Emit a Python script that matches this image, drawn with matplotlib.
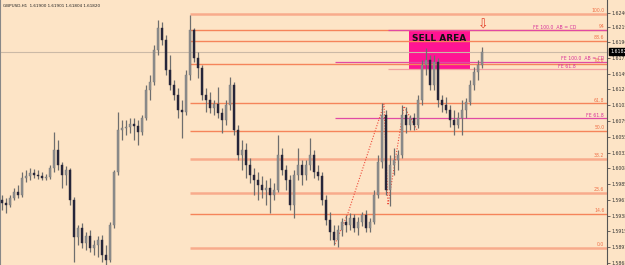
import numpy as np
import matplotlib
matplotlib.use("Agg")
from matplotlib import pyplot as plt
from matplotlib.patches import Rectangle
from matplotlib.transforms import blended_transform_factory

# GBPUSD H1 candles
opens = [1.5961, 1.5957, 1.5954, 1.5964, 1.5973, 1.5969, 1.5994, 1.5997, 1.6002, 1.5999,
         1.5997, 1.5994, 1.5996, 1.6009, 1.6036, 1.6014, 1.5999, 1.6006, 1.5961, 1.5906,
         1.5920, 1.5897, 1.5908, 1.5890, 1.5894, 1.5902, 1.5880, 1.5872, 1.5924, 1.6003,
         1.6066, 1.6069, 1.6070, 1.6074, 1.6071, 1.6063, 1.6083, 1.6125, 1.6137, 1.6185,
         1.6217, 1.6199, 1.6155, 1.6133, 1.6118, 1.6095, 1.6092, 1.6147, 1.6214, 1.6173,
         1.6158, 1.6118, 1.6110, 1.6098, 1.6104, 1.6091, 1.6080, 1.6103, 1.6133, 1.6066,
         1.6028, 1.6036, 1.6014, 1.5999, 1.5991, 1.5984, 1.5976, 1.5979, 1.5969, 1.5976,
         1.6028, 1.6006, 1.5991, 1.5954, 1.5999, 1.6014, 1.5999, 1.6014, 1.6028, 1.6003,
         1.5997, 1.5961, 1.5932, 1.5914, 1.5902, 1.5917, 1.5929, 1.5924, 1.5935, 1.5920,
         1.5929, 1.5939, 1.5920, 1.5929, 1.5969, 1.6018, 1.6088, 1.5976, 1.6014, 1.6021,
         1.6028, 1.6088, 1.6073, 1.6083, 1.6073, 1.6110, 1.6162, 1.6170, 1.6133, 1.6167,
         1.6110, 1.6103, 1.6095, 1.6080, 1.6073, 1.6083, 1.6095, 1.6107, 1.6133, 1.6152,
         1.6162]
highs = [1.5969, 1.5964, 1.5969, 1.5979, 1.5984, 1.6003, 1.6006, 1.6009, 1.6008, 1.6006,
         1.6003, 1.6000, 1.6014, 1.6063, 1.6051, 1.6018, 1.6012, 1.6009, 1.5966, 1.5924,
         1.5927, 1.5914, 1.5917, 1.5902, 1.5908, 1.5909, 1.5894, 1.5929, 1.6006, 1.6092,
         1.6080, 1.6080, 1.6083, 1.6083, 1.6080, 1.6088, 1.6133, 1.6147, 1.6192, 1.6229,
         1.6226, 1.6207, 1.6177, 1.6140, 1.6128, 1.6110, 1.6155, 1.6237, 1.6217, 1.6182,
         1.6162, 1.6128, 1.6122, 1.6110, 1.6130, 1.6098, 1.6110, 1.6144, 1.6137, 1.6073,
         1.6051, 1.6046, 1.6024, 1.6009, 1.6003, 1.5997, 1.5991, 1.5994, 1.5987, 1.6058,
         1.6039, 1.6014, 1.5999, 1.6006, 1.6039, 1.6021, 1.6021, 1.6054, 1.6036, 1.6014,
         1.6003, 1.5969, 1.5944, 1.5924, 1.5924, 1.5935, 1.5939, 1.5942, 1.5941, 1.5936,
         1.5944, 1.5946, 1.5935, 1.5976, 1.6028, 1.6106, 1.6095, 1.6028, 1.6039, 1.6036,
         1.6103, 1.6100, 1.6088, 1.6091, 1.6118, 1.6170, 1.6188, 1.6177, 1.6177, 1.6173,
         1.6118, 1.6115, 1.6103, 1.6095, 1.6092, 1.6110, 1.6113, 1.6140, 1.6159, 1.6170,
         1.6189]
lows = [1.5946, 1.5942, 1.5951, 1.5961, 1.5964, 1.5966, 1.5988, 1.5991, 1.5994, 1.5993,
        1.5991, 1.5991, 1.5993, 1.6003, 1.6006, 1.5979, 1.5984, 1.5954, 1.5869, 1.5894,
        1.5890, 1.5887, 1.5884, 1.5880, 1.5877, 1.5869, 1.5860, 1.5869, 1.5920, 1.5999,
        1.6051, 1.6058, 1.6061, 1.6051, 1.6043, 1.6058, 1.6080, 1.6110, 1.6133, 1.6177,
        1.6192, 1.6147, 1.6125, 1.6110, 1.6083, 1.6054, 1.6088, 1.6140, 1.6167, 1.6143,
        1.6110, 1.6092, 1.6091, 1.6088, 1.6083, 1.6061, 1.6073, 1.6095, 1.6058, 1.6021,
        1.6006, 1.5994, 1.5987, 1.5969, 1.5961, 1.5964, 1.5954, 1.5942, 1.5961, 1.5973,
        1.5999, 1.5976, 1.5946, 1.5935, 1.5991, 1.5984, 1.5991, 1.6006, 1.5994, 1.5991,
        1.5954, 1.5924, 1.5902, 1.5894, 1.5891, 1.5908, 1.5914, 1.5917, 1.5914, 1.5909,
        1.5923, 1.5914, 1.5914, 1.5926, 1.5964, 1.6009, 1.5969, 1.5952, 1.5999, 1.6006,
        1.6024, 1.6061, 1.6066, 1.6066, 1.6069, 1.6103, 1.6147, 1.6125, 1.6125, 1.6100,
        1.6092, 1.6091, 1.6070, 1.6058, 1.6069, 1.6058, 1.6083, 1.6103, 1.6125, 1.6140,
        1.6158]
closes = [1.5957, 1.5954, 1.5964, 1.5973, 1.5969, 1.5994, 1.5997, 1.6002, 1.5999, 1.5997,
          1.5994, 1.5996, 1.6009, 1.6036, 1.6014, 1.5999, 1.6006, 1.5961, 1.5906, 1.5920,
          1.5897, 1.5908, 1.5890, 1.5894, 1.5902, 1.5880, 1.5872, 1.5924, 1.6003, 1.6066,
          1.6069, 1.6070, 1.6074, 1.6071, 1.6063, 1.6083, 1.6125, 1.6137, 1.6185, 1.6217,
          1.6199, 1.6155, 1.6133, 1.6118, 1.6095, 1.6092, 1.6147, 1.6214, 1.6173, 1.6158,
          1.6118, 1.6110, 1.6098, 1.6104, 1.6091, 1.6080, 1.6103, 1.6133, 1.6066, 1.6028,
          1.6036, 1.6014, 1.5999, 1.5991, 1.5984, 1.5976, 1.5979, 1.5969, 1.5976, 1.6028,
          1.6006, 1.5991, 1.5954, 1.5999, 1.6014, 1.5999, 1.6014, 1.6028, 1.6003, 1.5997,
          1.5961, 1.5932, 1.5914, 1.5902, 1.5917, 1.5929, 1.5924, 1.5935, 1.5920, 1.5929,
          1.5939, 1.5920, 1.5929, 1.5969, 1.6018, 1.6088, 1.5976, 1.6014, 1.6021, 1.6028,
          1.6088, 1.6073, 1.6083, 1.6073, 1.6110, 1.6162, 1.6170, 1.6133, 1.6167, 1.6110,
          1.6103, 1.6095, 1.6080, 1.6073, 1.6083, 1.6095, 1.6107, 1.6133, 1.6152, 1.6162,
          1.6182]

price_ticks = [1.62400, 1.62190, 1.61960, 1.61730, 1.61490, 1.61260, 1.61025, 1.60790,
               1.60555, 1.60320, 1.60085, 1.59850, 1.59615, 1.59380, 1.59150, 1.58915, 1.58680]
last_price = 1.61820

# fibo retracement, drawn from bar 47
fib_start = 47
fib_low, fib_high = 1.5890, 1.6238
fib_levels = [0.0, 14.6, 23.6, 38.2, 50.0, 61.8, 78.6, 88.6, 93.1, 100.0]
fib_names = ["0.0", "14.6", "23.6", "38.2", "50.0", "61.8", "78.6", "88.6", "94", "100.0"]
fib_thick = [True, False, True, True, False, False, False, False, False, True]

# FE (AB=CD) projections
fe_start = [96.5, 96.5, 83.25, 83.25]
fe_price = [1.6214, 1.6156, 1.6167, 1.6083]
fe_names = ["FE 100.0  AB = CD", "FE 61.8", "FE 100.0  AB = CD", "FE 61.8"]
fe_label_x = [143.5, 143.5, 150.5, 150.5]

# zigzag (dotted red)
zz_x = [83.25, 86.5, 95.5, 96.5, 100.5, 103.75]
zz_y = [1.5896, 1.5942, 1.6104, 1.5954, 1.6101, 1.6066]

# sell area box
sell_x0, sell_x1 = 101.75, 117.0
sell_lo, sell_hi = 1.6156, 1.6214

bg = "#fde4c6"
bull_col = "#8e8e8e"
bear_col = "#26263a"
wick_col = "#6e6e6e"
fib_col = "#f5845a"
fib_light = "#f8ab8c"
fe_col = "#e04aa4"

fig = plt.figure(figsize=(6.25, 2.65), dpi=100)
fig.patch.set_facecolor(bg)
ax = fig.add_axes([0, 0, 607 / 625, 1])
ax.set_facecolor(bg)

o = np.array(opens); h = np.array(highs); l = np.array(lows); c = np.array(closes)
x = np.arange(len(c))

ax.set_xlim(-0.5, 151.25)
ax.set_ylim(1.58647, 1.6259)

# sell area
ax.add_patch(Rectangle((sell_x0, sell_lo), sell_x1 - sell_x0, sell_hi - sell_lo,
                       facecolor="#ff1493", edgecolor="none", zorder=1))
ax.text((sell_x0 + sell_x1) / 2, 1.6202, "SELL AREA", ha="center", va="center",
        fontsize=6.5, fontweight="bold", color="#111111", zorder=6)

# current price line
ax.axhline(last_price, color="#cbb9a6", lw=0.8, zorder=1.5)

# fibo lines
for lev, name, thick in zip(fib_levels, fib_names, fib_thick):
    p = fib_low + (fib_high - fib_low) * lev / 100
    ax.hlines(p, fib_start, 151.25, color=fib_light if thick else fib_col,
              lw=1.8 if thick else 1.0, zorder=2)
    ax.text(150.6, p + 0.00012, name, ha="right", va="bottom", fontsize=3.3,
            color="#f07048", zorder=3)

# FE lines
for xs, p, name, lx in zip(fe_start, fe_price, fe_names, fe_label_x):
    ax.hlines(p, xs, 151.25, color=fe_col if "100" in name or xs < 90 else "#f3a0a0",
              lw=0.9, zorder=2.2)
    ax.text(lx, p + 0.0001, name, ha="right", va="bottom", fontsize=3.3,
            color="#d8309a", zorder=3)

# zigzag
ax.plot(zz_x, zz_y, linestyle=(0, (1, 1.5)), color="#ee4a3a", lw=0.8, zorder=4)

# candles
up = c >= o
ax.vlines(x, l, h, color=wick_col, lw=0.9, zorder=4)
body_lo = np.minimum(o, c)
body_h = np.maximum(np.abs(c - o), 0.00008)
ax.bar(x, body_h, bottom=body_lo, width=0.72,
       color=np.where(up, bull_col, bear_col), edgecolor=np.where(up, "#7a7a7a", bear_col),
       lw=0.3, zorder=5)

# red arrow
ax.text(120.3, 1.6222, "\u21e9", ha="center", va="center", fontsize=9,
        color="#e33a24", zorder=6)

# title
ax.text(0.005, 0.985, "GBPUSD,H1  1.61900 1.61901 1.61804 1.61820", transform=ax.transAxes,
        ha="left", va="top", fontsize=3.0, color="#222222")

# right price scale
ax.yaxis.tick_right()
ax.set_yticks(price_ticks)
ax.set_yticklabels(["%.5f" % v for v in price_ticks])
ax.tick_params(axis="y", labelsize=3.3, length=2, width=0.5, pad=1.2, colors="#333333")
ax.set_xticks([])
for s in ["top", "bottom"]:
    ax.spines[s].set_visible(False)
ax.spines["right"].set_color("#555555")
ax.spines["right"].set_linewidth(0.8)
ax.spines["left"].set_color("#888888")
ax.spines["left"].set_linewidth(0.8)

tr = blended_transform_factory(ax.transAxes, ax.transData)
ax.text(1.006, last_price, "%.5f" % last_price, transform=tr, ha="left", va="center",
        fontsize=3.3, color="white", clip_on=False, zorder=7,
        bbox=dict(boxstyle="square,pad=0.25", facecolor="black", edgecolor="black"))

fig.savefig("out.png", dpi=100, facecolor=bg)
